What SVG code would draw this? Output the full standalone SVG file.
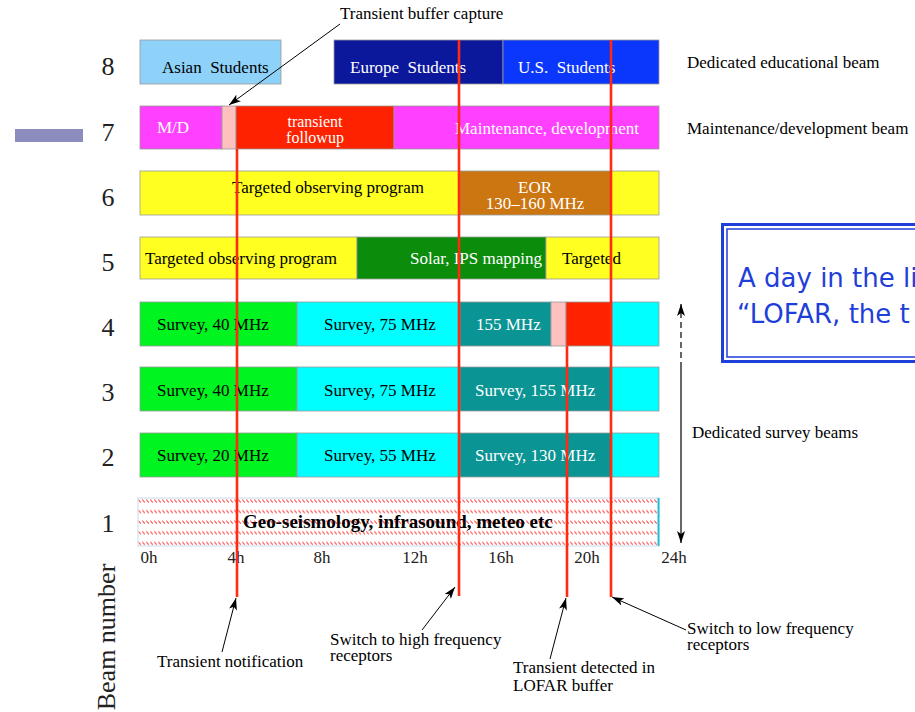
<svg xmlns="http://www.w3.org/2000/svg" width="915" height="712" viewBox="0 0 915 712">
<style>
.seg{stroke:#9a9a9a;stroke-width:0.8}
.t{font-family:"Liberation Serif","Times New Roman",serif;font-size:17px;fill:#000}
.w{fill:#fff}
.num{font-family:"Liberation Serif","Times New Roman",serif;font-size:26px;fill:#222;text-anchor:middle}
.ax{font-family:"Liberation Serif","Times New Roman",serif;font-size:17px;fill:#222;text-anchor:middle}
.mid{text-anchor:middle}
.red{stroke:#ff2a12;stroke-width:2.6;fill:none}
.arr{stroke:#000;stroke-width:1;fill:none;marker-end:url(#ah)}
</style>
<defs>
<marker id="ah" viewBox="0 0 12 8" refX="12" refY="4" markerWidth="12" markerHeight="8" orient="auto" markerUnits="userSpaceOnUse">
<path d="M0,0 L12,4 L0,8 L3,4 z" fill="#000"/>
</marker>
<pattern id="hatch" patternUnits="userSpaceOnUse" x="138" y="498" width="4" height="10.6">
<path d="M0.3,1.5 L2.8,4.5" stroke="#ff4a4a" stroke-width="1.1"/>
</pattern>
</defs>
<rect width="915" height="712" fill="#fff"/>

<rect x="15" y="129" width="68" height="13" fill="#8c8cbf"/>

<g id="labels-rows">
<text class="num" x="108" y="75">8</text>
<text class="num" x="108" y="141">7</text>
<text class="num" x="108" y="206">6</text>
<text class="num" x="108" y="271">5</text>
<text class="num" x="108" y="336">4</text>
<text class="num" x="108" y="401">3</text>
<text class="num" x="108" y="466">2</text>
<text class="num" x="108" y="532">1</text>
<text class="num" transform="translate(115,637) rotate(-90)" x="0" y="0">Beam number</text>
</g>

<g id="beam8">
<rect class="seg" x="140" y="40" width="141" height="44" fill="#8ed2fa"/>
<rect class="seg" x="334" y="40" width="169" height="44" fill="#0c189c"/>
<rect class="seg" x="503" y="40" width="156" height="44" fill="#0b36fb"/>
<text class="t" x="162" y="73">Asian&#160; Students</text>
<text class="t w" x="350" y="73">Europe&#160; Students</text>
<text class="t w" x="518" y="73">U.S.&#160; Students</text>
</g>

<g id="beam7">
<rect class="seg" x="140" y="106" width="82" height="43" fill="#ff40ff"/>
<rect class="seg" x="222" y="106" width="14" height="43" fill="#ffc0c0"/>
<rect class="seg" x="236" y="106" width="158" height="43" fill="#ff2200"/>
<rect class="seg" x="394" y="106" width="265" height="43" fill="#ff40ff"/>
<text class="t w" x="157" y="133">M/D</text>
<text class="t w mid" x="315" y="127" style="font-size:16px">transient</text>
<text class="t w mid" x="315" y="143" style="font-size:16px">followup</text>
<text class="t w" x="455" y="134">Maintenance, development</text>
</g>

<g id="beam6">
<rect class="seg" x="140" y="171" width="320" height="44" fill="#ffff22"/>
<rect class="seg" x="460" y="171" width="151" height="44" fill="#cc7612"/>
<rect class="seg" x="611" y="171" width="48" height="44" fill="#ffff22"/>
<text class="t" x="232" y="193">Targeted observing program</text>
<text class="t w mid" x="535" y="193">EOR</text>
<text class="t w mid" x="535" y="209">130–160 MHz</text>
</g>

<g id="beam5">
<rect class="seg" x="140" y="237" width="217" height="42" fill="#ffff22"/>
<rect class="seg" x="357" y="237" width="189" height="42" fill="#0b8c0b"/>
<rect class="seg" x="546" y="237" width="113" height="42" fill="#ffff22"/>
<text class="t" x="145" y="264">Targeted observing program</text>
<text class="t w" x="410" y="264">Solar, IPS mapping</text>
<text class="t" x="562" y="264">Targeted</text>
</g>

<g id="beam4">
<rect class="seg" x="140" y="302" width="157" height="44" fill="#00f420"/>
<rect class="seg" x="297" y="302" width="163" height="44" fill="#00ffff"/>
<rect class="seg" x="460" y="302" width="91" height="44" fill="#0a9494"/>
<rect class="seg" x="551" y="302" width="15" height="44" fill="#ffc0c0"/>
<rect class="seg" x="566" y="302" width="46" height="44" fill="#ff2200"/>
<rect class="seg" x="612" y="302" width="47" height="44" fill="#00ffff"/>
<text class="t" x="157" y="330">Survey, 40 MHz</text>
<text class="t" x="324" y="330">Survey, 75 MHz</text>
<text class="t w" x="476" y="330">155 MHz</text>
</g>

<g id="beam3">
<rect class="seg" x="140" y="367" width="157" height="44" fill="#00f420"/>
<rect class="seg" x="297" y="367" width="163" height="44" fill="#00ffff"/>
<rect class="seg" x="460" y="367" width="152" height="44" fill="#0a9494"/>
<rect class="seg" x="612" y="367" width="47" height="44" fill="#00ffff"/>
<text class="t" x="157" y="396">Survey, 40 MHz</text>
<text class="t" x="324" y="396">Survey, 75 MHz</text>
<text class="t w" x="475" y="396">Survey, 155 MHz</text>
</g>

<g id="beam2">
<rect class="seg" x="140" y="433" width="157" height="44" fill="#00f420"/>
<rect class="seg" x="297" y="433" width="163" height="44" fill="#00ffff"/>
<rect class="seg" x="460" y="433" width="152" height="44" fill="#0a9494"/>
<rect class="seg" x="612" y="433" width="47" height="44" fill="#00ffff"/>
<text class="t" x="157" y="461">Survey, 20 MHz</text>
<text class="t" x="324" y="461">Survey, 55 MHz</text>
<text class="t w" x="475" y="461">Survey, 130 MHz</text>
</g>

<g id="beam1">
<rect x="138" y="498" width="521" height="48" fill="#fff" stroke="#c8dcf0" stroke-width="1"/>
<rect x="138.5" y="498.5" width="520" height="47" fill="url(#hatch)"/>
<line x1="658.5" y1="498" x2="658.5" y2="546" stroke="#20c0d0" stroke-width="2"/>
<text class="t" x="243" y="528" style="font-weight:bold;font-size:19px">Geo-seismology, infrasound, meteo etc</text>
</g>

<g id="axis">
<text class="ax" x="149" y="563">0h</text>
<text class="ax" x="236" y="563">4h</text>
<text class="ax" x="322" y="563">8h</text>
<text class="ax" x="415" y="563">12h</text>
<text class="ax" x="501" y="563">16h</text>
<text class="ax" x="587" y="563">20h</text>
<text class="ax" x="674" y="563">24h</text>
</g>

<g id="side-labels">
<text class="t" x="687" y="68">Dedicated educational beam</text>
<text class="t" x="687" y="134">Maintenance/development beam</text>
<text class="t" x="692" y="438">Dedicated survey beams</text>
</g>

<g id="title-box">
<rect x="722.5" y="224.5" width="210" height="137" fill="#fff" stroke="#1f3fd9" stroke-width="3"/>
<rect x="727" y="229" width="200" height="128" fill="none" stroke="#1f3fd9" stroke-width="1.5"/>
<text x="738" y="287" style="font-family:'DejaVu Sans',sans-serif;font-size:26px;fill:#1f3fd9">A day in the li</text>
<text x="737" y="323" style="font-family:'DejaVu Sans',sans-serif;font-size:26px;fill:#1f3fd9">“LOFAR, the t</text>
</g>

<g id="notes">
<text class="t" x="340" y="19">Transient buffer capture</text>
<text class="t" x="157" y="667">Transient notification</text>
<text class="t" x="330" y="645">Switch to high frequency</text>
<text class="t" x="330" y="661">receptors</text>
<text class="t" x="513" y="673">Transient detected in</text>
<text class="t" x="513" y="691">LOFAR buffer</text>
<text class="t" x="687" y="634">Switch to low frequency</text>
<text class="t" x="687" y="650">receptors</text>
</g>

<g id="connectors">
<line class="red" x1="237" y1="149" x2="237" y2="597"/>
<line class="red" x1="459" y1="40" x2="459" y2="596"/>
<line class="red" x1="567" y1="346" x2="567" y2="597"/>
<line class="red" x1="611" y1="40" x2="611" y2="597"/>
<line class="arr" x1="340" y1="24" x2="229" y2="105"/>
<line class="arr" x1="222" y1="652" x2="236" y2="598"/>
<line class="arr" x1="422" y1="630" x2="455" y2="587"/>
<line class="arr" x1="550" y1="659" x2="566" y2="598"/>
<line class="arr" x1="686" y1="630" x2="612" y2="597"/>
<line x1="681" y1="358" x2="681" y2="304" stroke="#000" stroke-width="1.2" stroke-dasharray="6,4" marker-end="url(#ah)"/>
<line class="arr" x1="681" y1="362" x2="681" y2="543" style="stroke-width:1.2"/>
</g>
</svg>
